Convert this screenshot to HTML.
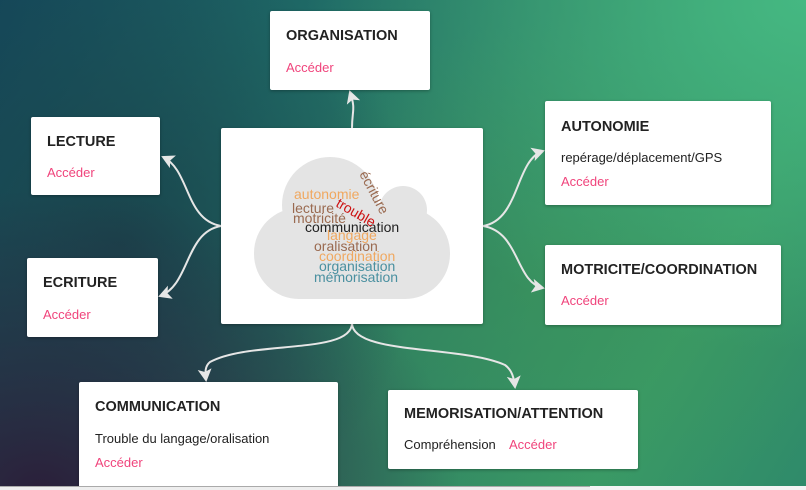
<!DOCTYPE html>
<html><head><meta charset="utf-8"><style>
*{margin:0;padding:0;box-sizing:border-box}
body{width:806px;height:490px;overflow:hidden;position:relative;font-family:"Liberation Sans",sans-serif;
background:
radial-gradient(ellipse 420px 300px at 5% 100%, #2b1f3a 0%, rgba(43,31,58,0) 100%),
radial-gradient(ellipse 300px 300px at 15% 50%, rgba(25,60,70,0.8) 0%, rgba(25,60,70,0) 100%),
radial-gradient(ellipse 500px 350px at 100% 0%, #45b882 0%, rgba(69,184,130,0) 100%),
radial-gradient(ellipse 300px 250px at 70% 55%, rgba(60,150,90,0.6) 0%, rgba(60,150,90,0) 100%),
linear-gradient(120deg,#15485a 0%,#1f6a66 30%,#2f7f62 55%,#3a9a66 80%,#2f8a6a 100%);}
.box{position:absolute;background:#fff;border-radius:2px;box-shadow:0 1px 3px rgba(0,0,0,.3)}
.t{position:absolute;font-weight:bold;font-size:14.5px;color:#222;white-space:nowrap}
.a{position:absolute;font-size:13px;color:#f0447c;white-space:nowrap}
.s{position:absolute;font-size:13px;color:#222;white-space:nowrap}
svg{position:absolute;left:0;top:0}
</style></head><body>
<svg width="806" height="490">
<defs><marker id="m" markerWidth="14" markerHeight="14" refX="11" refY="7" orient="auto" markerUnits="userSpaceOnUse"><path d="M0,0 L13,7 L0,14 L3,7 Z" fill="#e6e6e6"/></marker></defs>
<g fill="none" stroke="#e6e6e6" stroke-width="2">
<path d="M352,128 C352,110 356,110 350,92" marker-end="url(#m)"/>
<path d="M221,226 C185,220 190,170 163,157" marker-end="url(#m)"/>
<path d="M221,226 C185,232 190,285 160,296" marker-end="url(#m)"/>
<path d="M483,226 C520,220 515,160 543,151" marker-end="url(#m)"/>
<path d="M483,226 C520,232 515,282 543,288" marker-end="url(#m)"/>
<path d="M352,323 C352,355 250,340 210,362 C205,366 205,372 206,380" marker-end="url(#m)"/>
<path d="M352,323 C352,355 460,345 505,365 C512,370 514,378 515,387" marker-end="url(#m)"/>
</g>
</svg>
<div class="box" style="left:270px;top:11px;width:160px;height:79px"><div class="t" style="left:16px;top:17px">ORGANISATION</div><div class="a" style="left:16px;top:49px">Accéder</div></div>
<div class="box" style="left:31px;top:117px;width:129px;height:78px"><div class="t" style="left:16px;top:17px">LECTURE</div><div class="a" style="left:16px;top:48px">Accéder</div></div>
<div class="box" style="left:27px;top:258px;width:131px;height:79px"><div class="t" style="left:16px;top:17px">ECRITURE</div><div class="a" style="left:16px;top:49px">Accéder</div></div>
<div class="box" style="left:545px;top:101px;width:226px;height:104px"><div class="t" style="left:16px;top:18px">AUTONOMIE</div><div class="s" style="left:16px;top:49px">repérage/déplacement/GPS</div><div class="a" style="left:16px;top:73px">Accéder</div></div>
<div class="box" style="left:545px;top:245px;width:236px;height:80px"><div class="t" style="left:16px;top:17px">MOTRICITE/COORDINATION</div><div class="a" style="left:16px;top:48px">Accéder</div></div>
<div class="box" style="left:79px;top:382px;width:259px;height:106px"><div class="t" style="left:16px;top:17px">COMMUNICATION</div><div class="s" style="left:16px;top:49px">Trouble du langage/oralisation</div><div class="a" style="left:16px;top:73px">Accéder</div></div>
<div class="box" style="left:388px;top:390px;width:250px;height:79px"><div class="t" style="left:16px;top:16px">MEMORISATION/ATTENTION</div><div class="s" style="left:16px;top:47px">Compréhension</div><div class="a" style="left:121px;top:47px">Accéder</div></div>
<div class="box" style="left:221px;top:128px;width:262px;height:196px">
<svg width="262" height="196">
<g fill="#e4e4e4">
<circle cx="109" cy="77" r="48"/><circle cx="182" cy="82" r="24"/>
<rect x="33" y="80" width="196" height="91" rx="45"/>
<rect x="62" y="76" width="140" height="40"/>
</g>
<g font-family="Liberation Sans,sans-serif" font-size="14">
<text x="73" y="71" fill="#f0a860">autonomie</text>
<text x="71" y="85" fill="#9a6a50">lecture</text>
<text x="72" y="95" fill="#9a6a50">motricité</text>
<text x="84" y="104" fill="#222">communication</text>
<text x="106" y="112" fill="#f0a860">langage</text>
<text x="93" y="123" fill="#9a6a50">oralisation</text>
<text x="98" y="133" fill="#f0a860">coordination</text>
<text x="98" y="143" fill="#4a90a0">organisation</text>
<text x="93" y="154" fill="#4a90a0">mémorisation</text>
<text x="0" y="0" fill="#cc1111" transform="translate(114,78) rotate(30)">trouble</text>
<text x="0" y="0" fill="#9a6a50" transform="translate(138,46) rotate(62)">écriture</text>
</g>
</svg>
</div>
<div style="position:absolute;left:0;top:486px;width:590px;height:4px;background:#eee;border-top:1px solid #aaa"></div>
<div style="position:absolute;left:590px;top:486px;width:216px;height:4px;background:#f4f4f4"></div>
</body></html>
